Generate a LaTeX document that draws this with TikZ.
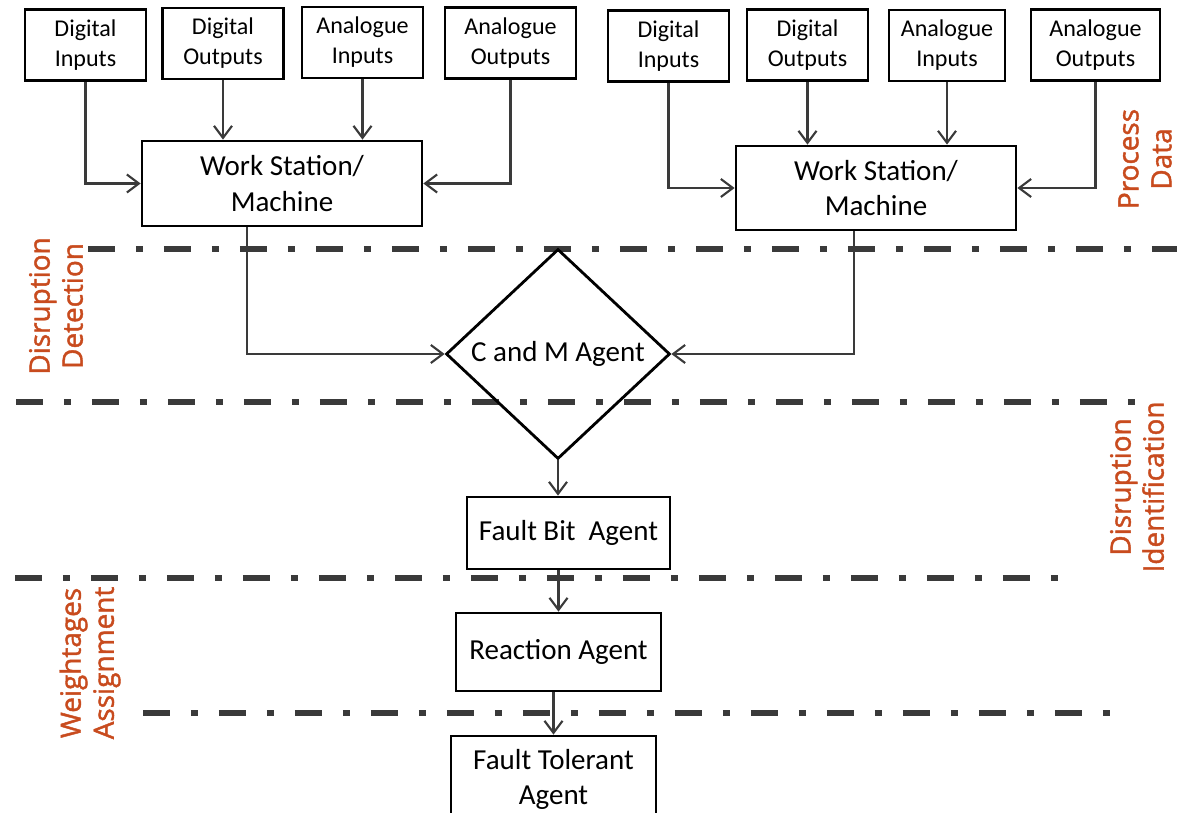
\documentclass[tikz,border=0pt]{standalone}
\usepackage{fontspec}
\usetikzlibrary{shapes.geometric,arrows.meta}
\setmainfont{Carlito}
\newfontfamily\tagfont[FakeBold=1.5]{Open Sans}
\definecolor{tagred}{RGB}{200,75,30}
\definecolor{linegray}{RGB}{58,58,58}

\tikzset{
  box/.style={draw,line width=1.6pt,align=center,inner sep=0pt},
  iobox/.style={box,minimum width=2.42cm,minimum height=1.42cm,font=\fontsize{13.7}{17}\selectfont},
  agent/.style={box,font=\fontsize{16.5}{20}\selectfont},
  flow/.style={draw=linegray,line width=1.2pt,-{Straight Barb[length=2.4mm,width=3.6mm]}},
  sep/.style={draw=linegray,line width=3.1pt,dash pattern=on 0.54cm off 0.42cm on 0.14cm off 0.42cm},
  tag/.style={text=tagred,rotate=90,align=center,font=\tagfont\fontsize{15.9}{18.8}\selectfont}
}

\begin{document}
\begin{tikzpicture}[x=0.02cm,y=-0.02cm]
  \useasboundingbox (0,0) rectangle (1177,813);
  \clip (0,0) rectangle (1177,813);

  % stage borders
  \path[sep] (88,249) -- (1177,249);
  \path[sep] (16,402) -- (1140,402);
  \path[sep] (15,578) -- (1062,578);
  \path[sep] (143,713) -- (1119,713);

  % left machine
  \node[iobox] (di1) at (85.5,45) {Digital\\Inputs};
  \node[iobox] (do1) at (223,43.5) {Digital\\Outputs};
  \node[iobox] (ai1) at (362.5,42.5) {Analogue\\Inputs};
  \node[iobox,minimum width=2.62cm] (ao1) at (510.5,43) {Analogue\\Outputs};
  \node[agent,minimum width=5.6cm,minimum height=1.7cm] (ws1) at (282,183.5) {Work Station/\\Machine};

  % right machine
  \node[iobox] (di2) at (668.5,46) {Digital\\Inputs};
  \node[iobox] (do2) at (807.5,45) {Digital\\Outputs};
  \node[iobox,minimum width=2.32cm] (ai2) at (947,45.5) {Analogue\\Inputs};
  \node[iobox,minimum width=2.58cm] (ao2) at (1095.5,45) {Analogue\\Outputs};
  \node[agent,minimum width=5.6cm,minimum height=1.68cm] (ws2) at (876,188) {Work Station/\\Machine};

  % agents
  \node[draw,diamond,line width=1.6pt,inner sep=0pt,minimum width=4.48cm,minimum height=4.2cm,
        font=\fontsize{16.5}{20}\selectfont] (cm) at (558,354) {C and M Agent};
  \node[agent,minimum width=4.06cm,minimum height=1.44cm] (fb) at (568.5,533) {Fault Bit~ Agent};
  \node[agent,minimum width=4.1cm,minimum height=1.56cm] (ra) at (558.5,652) {Reaction Agent};
  \node[agent,minimum width=4.1cm,minimum height=1.72cm,font=\fontsize{16.5}{20}\selectfont] (ft) at (553.5,779) {Fault Tolerant\\Agent};

  % stage names
  \node[tag] (pd) at (1145,159) {Process\\Data};
  \node[tag] (dd) at (56,306) {Disruption\\Detection};
  \node[tag] (dn) at (1137,487) {Disruption\\Identification};
  \node[tag] (wa) at (90,663) {Weightages\\Assignment};

  % signals into the machines
  \path[flow] (di1.south) |- (ws1.west);
  \path[flow] (do1.south) -- (do1.south |- ws1.north);
  \path[flow] (ai1.south) -- (ai1.south |- ws1.north);
  \path[flow] (ao1.south) |- (ws1.east);
  \path[flow] (di2.south) |- (ws2.west);
  \path[flow] (do2.south) -- (do2.south |- ws2.north);
  \path[flow] (ai2.south) -- (ai2.south |- ws2.north);
  \path[flow] (ao2.south) |- (ws2.east);

  % agent chain
  \path[flow] ([xshift=-0.7cm]ws1.south) |- (cm.west);
  \path[flow] ([xshift=-0.44cm]ws2.south) |- (cm.east);
  \path[flow] (cm.south) -- (cm.south |- fb.north);
  \path[flow] (ra.north |- fb.south) -- (ra.north);
  \path[flow] (ft.north |- ra.south) -- (ft.north);
\end{tikzpicture}
\end{document}
